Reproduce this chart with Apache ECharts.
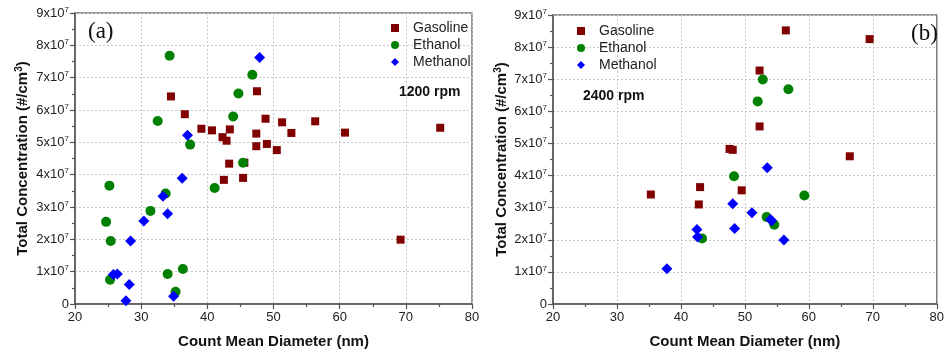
<!DOCTYPE html>
<html>
<head>
<meta charset="utf-8">
<script src="https://cdn.jsdelivr.net/npm/echarts@6/dist/echarts.min.js"></script>
<style>
  html, body { margin: 0; padding: 0; background: #fff; }
  #chart { width: 947px; height: 354px; }
</style>
</head>
<body>
<div id="chart"></div>
<script>
// panel (a) 1200 rpm: [diameter nm, concentration #/cm3]
const gasoline1200 = [
  [34.5, 6.42e7], [36.6, 5.87e7], [39.1, 5.42e7], [40.7, 5.37e7], [42.3, 5.16e7],
  [42.9, 5.05e7], [43.4, 5.40e7], [43.3, 4.34e7], [42.5, 3.84e7], [45.4, 3.90e7],
  [45.6, 4.37e7], [47.5, 6.58e7], [47.4, 5.27e7], [47.4, 4.88e7], [48.8, 5.73e7],
  [49.0, 4.95e7], [50.5, 4.76e7], [51.3, 5.62e7], [52.7, 5.29e7], [56.3, 5.65e7],
  [60.8, 5.30e7], [75.2, 5.45e7], [69.2, 1.99e7]
]
const ethanol1200 = [
  [34.3, 7.68e7], [46.8, 7.09e7], [44.7, 6.51e7], [43.9, 5.80e7], [32.5, 5.66e7],
  [37.4, 4.93e7], [45.4, 4.37e7], [41.1, 3.59e7], [25.2, 3.66e7], [33.7, 3.42e7],
  [31.4, 2.88e7], [24.7, 2.54e7], [25.4, 1.95e7], [36.3, 1.08e7], [34.0, 0.93e7],
  [25.3, 0.75e7], [35.2, 0.38e7]
]
const methanol1200 = [
  [47.9, 7.62e7], [37.0, 5.22e7], [36.2, 3.89e7], [33.3, 3.33e7], [34.0, 2.79e7],
  [30.4, 2.57e7], [28.4, 1.95e7], [25.8, 0.91e7], [26.4, 0.93e7], [28.2, 0.60e7],
  [27.7, 0.10e7], [34.9, 0.24e7]
]

// panel (b) 2400 rpm
const gasoline2400 = [
  [56.4, 8.52e7], [69.5, 8.25e7], [52.3, 7.27e7], [52.3, 5.53e7], [47.6, 4.83e7],
  [48.1, 4.80e7], [66.4, 4.60e7], [43.0, 3.64e7], [49.5, 3.54e7], [35.3, 3.41e7],
  [42.8, 3.10e7]
]
const ethanol2400 = [
  [52.8, 6.99e7], [56.8, 6.69e7], [52.0, 6.31e7], [48.3, 3.98e7], [59.3, 3.38e7],
  [53.4, 2.71e7], [54.6, 2.47e7], [43.3, 2.04e7]
]
const methanol2400 = [
  [53.5, 4.24e7], [48.1, 3.12e7], [51.1, 2.84e7], [54.0, 2.63e7], [54.2, 2.59e7],
  [42.5, 2.32e7], [48.4, 2.35e7], [42.6, 2.09e7], [56.1, 1.99e7], [37.8, 1.10e7]
]

const fuelNames = ['Gasoline', 'Ethanol', 'Methanol']
const panelLabels = ['(a)', '(b)']
const speedLabels = ['1200 rpm', '2400 rpm']

const FONT = '"Liberation Sans", Arial, sans-serif'
const colors = { Gasoline: '#800000', Ethanol: '#008000', Methanol: '#0000ff' }
const symbols = { Gasoline: 'rect', Ethanol: 'circle', Methanol: 'diamond' }
const sizes = { Gasoline: 8, Ethanol: 10, Methanol: 11 }

const chart = echarts.init(document.getElementById('chart'))

const grids = [
  { left: 75, top: 13, width: 397, height: 292.5 },
  { left: 553, top: 15, width: 398, height: 292.3 }
]

function xAxisFor(i) {
  return {
    type: 'value', gridIndex: i, min: 20, max: 80, interval: 10,
    name: 'Count Mean Diameter (nm)', nameLocation: 'middle', nameGap: 30,
    nameTextStyle: { fontFamily: FONT, fontWeight: 'bold', fontSize: 15, color: '#111' },
    axisLine: { lineStyle: { color: '#555', width: 1.5 } },
    axisTick: { length: 5, lineStyle: { color: '#555', width: 1.2 } },
    minorTick: { show: true, splitNumber: 2, length: 3, lineStyle: { color: '#555', width: 1.2 } },
    axisLabel: { fontFamily: FONT, fontSize: 13, color: '#222', margin: 7 },
    splitLine: { show: true, lineStyle: { color: '#c8c8c8', type: [2, 2], width: 1 } }
  }
}

function yAxisFor(i) {
  return {
    type: 'value', gridIndex: i, min: 0, max: 9e7, interval: 1e7,
    name: '{b|Total Concentration (#/cm}{s|3}{b|)}', nameLocation: 'middle', nameGap: i === 0 ? 43 : 42,
    nameTextStyle: {
      rich: {
        b: { fontFamily: FONT, fontWeight: 'bold', fontSize: 15, color: '#111' },
        s: { fontFamily: FONT, fontWeight: 'bold', fontSize: 10, color: '#111', verticalAlign: 'bottom', padding: [0, 0, 8, 0] }
      }
    },
    axisLine: { show: true, lineStyle: { color: '#555', width: 1.5 } },
    axisTick: { length: 5, lineStyle: { color: '#555', width: 1.2 } },
    minorTick: { show: true, splitNumber: 2, length: 3, lineStyle: { color: '#555', width: 1.2 } },
    axisLabel: {
      margin: 6,
      formatter: function (v) {
        if (v === 0) return '{n|0}'
        return '{n|' + Math.round(v / 1e7) + 'x10}{s|7}'
      },
      rich: {
        n: { fontFamily: FONT, fontSize: 13, color: '#222' },
        s: { fontFamily: FONT, fontSize: 8, color: '#222', verticalAlign: 'bottom', padding: [0, 0, 7, 0] }
      }
    },
    splitLine: { show: true, lineStyle: { color: '#c8c8c8', type: [2, 2], width: 1 } }
  }
}

function makeSeries(name, data, idx) {
  return {
    name: name, type: 'scatter', xAxisIndex: idx, yAxisIndex: idx,
    data: data, symbol: symbols[name], symbolSize: sizes[name],
    itemStyle: { color: colors[name], opacity: 1 },
    z: 3
  }
}

function legendFor(left, top) {
  return {
    orient: 'vertical', left: left, top: top, data: fuelNames.map(n => ({ name: n, icon: symbols[n] })),
    itemWidth: 8, itemHeight: 8, itemGap: 3,
    textStyle: { fontFamily: FONT, fontSize: 14, color: '#222', lineHeight: 13, padding: [0, 0, 0, 9] },
    selectedMode: false
  }
}

const option = {
  backgroundColor: '#fff',
  animation: false,
  grid: grids.map(g => Object.assign({ show: true, borderColor: '#777', borderWidth: 1.5, backgroundColor: 'transparent' }, g)),
  xAxis: [xAxisFor(0), xAxisFor(1)],
  yAxis: [yAxisFor(0), yAxisFor(1)],
  legend: [legendFor(386, 16), legendFor(572, 19)],
  graphic: [
    { type: 'text', left: 88, top: 20, style: { text: panelLabels[0], font: '23px "Liberation Serif", "Times New Roman", serif', fill: '#111' } },
    { type: 'text', left: 911, top: 22, style: { text: panelLabels[1], font: '23px "Liberation Serif", "Times New Roman", serif', fill: '#111' } },
    { type: 'text', left: 399, top: 85, style: { text: speedLabels[0], font: 'bold 14px ' + FONT, fill: '#111' } },
    { type: 'text', left: 583, top: 89, style: { text: speedLabels[1], font: 'bold 14px ' + FONT, fill: '#111' } }
  ],
  series: [
    makeSeries('Gasoline', gasoline1200, 0),
    makeSeries('Ethanol', ethanol1200, 0),
    makeSeries('Methanol', methanol1200, 0),
    makeSeries('Gasoline', gasoline2400, 1),
    makeSeries('Ethanol', ethanol2400, 1),
    makeSeries('Methanol', methanol2400, 1)
  ]
}

chart.setOption(option)
</script>
</body>
</html>
